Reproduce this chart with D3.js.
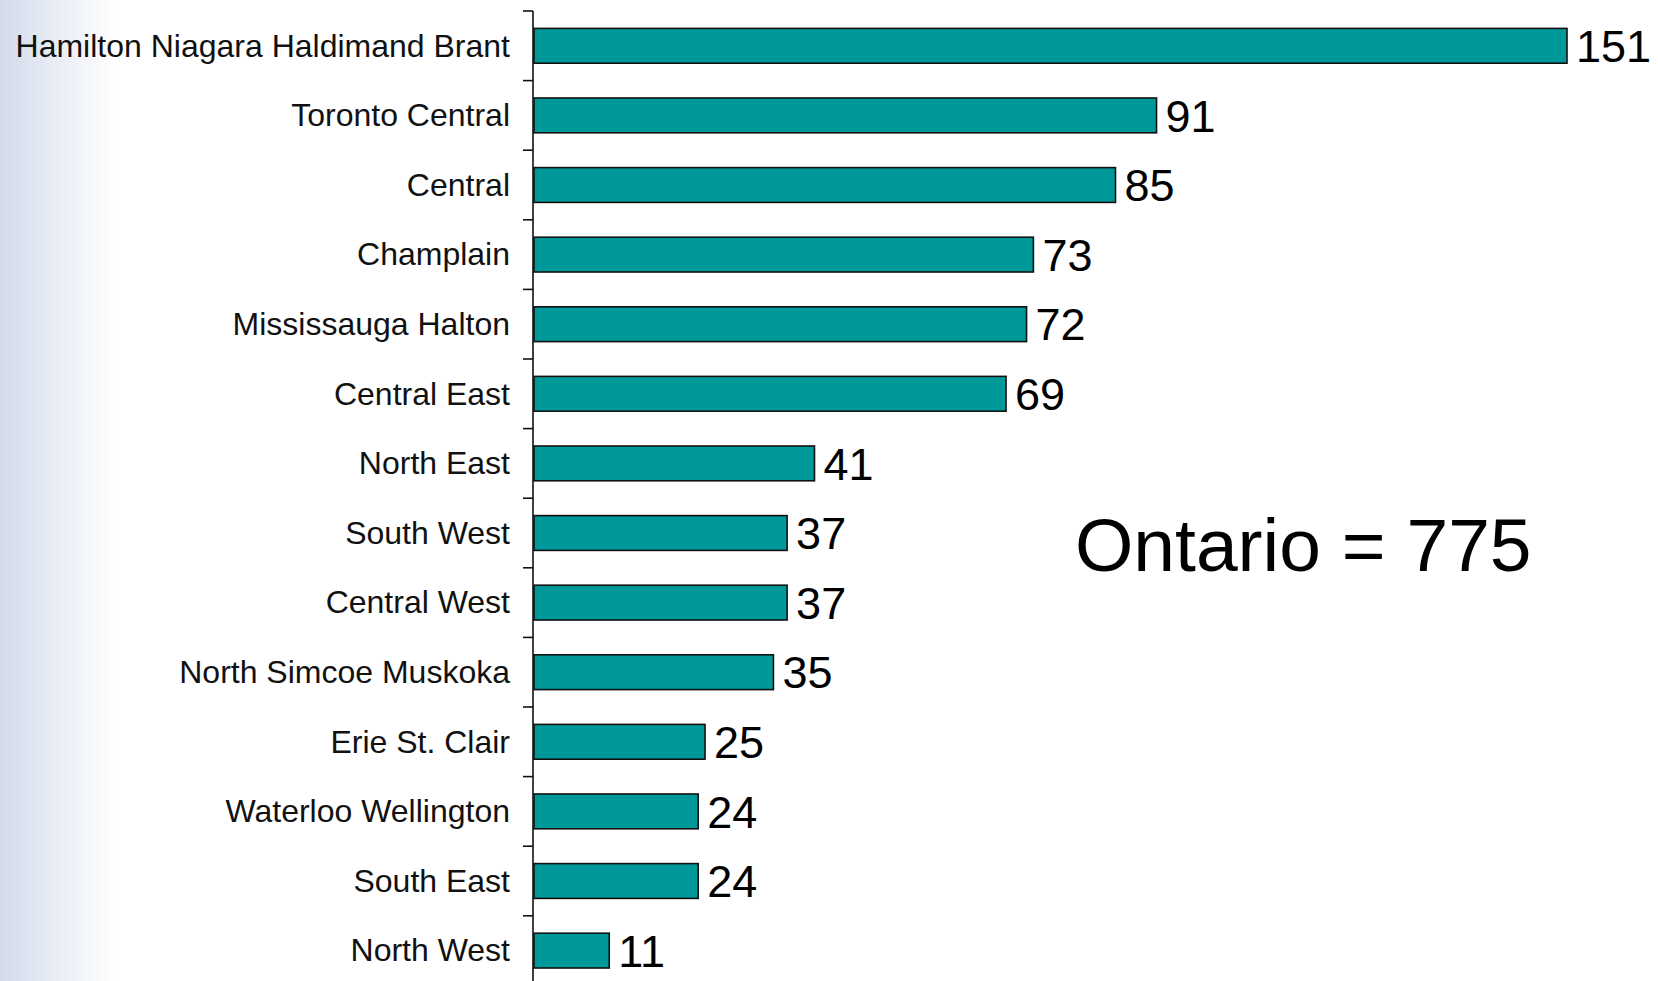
<!DOCTYPE html>
<html lang="en">
<head>
    <meta charset="UTF-8">
    <title>LHIN counts</title>
    <script src="https://d3js.org/d3.v7.min.js"></script>
    <style>
        body { margin: 0; background: #fff; }
        svg { display: block; font-family: "Liberation Sans", Arial, sans-serif; }
    </style>
</head>
<body>
    <svg id="chart" width="1658" height="981"></svg>
    <script>
        // data
        const regions = [
            "Hamilton Niagara Haldimand Brant", "Toronto Central", "Central", "Champlain",
            "Mississauga Halton", "Central East", "North East", "South West", "Central West",
            "North Simcoe Muskoka", "Erie St. Clair", "Waterloo Wellington", "South East", "North West"
        ];
        const counts = [151, 91, 85, 73, 72, 69, 41, 37, 37, 35, 25, 24, 24, 11];
        const totalLabel = "Ontario = 775";

        const svg = d3.select("#chart");
        const W = 1658, H = 981;

        // faint blue strip down the left edge
        const defs = svg.append("defs");
        const grad = defs.append("linearGradient").attr("id", "edge").attr("x1", 0).attr("x2", 1).attr("y1", 0).attr("y2", 0);
        grad.append("stop").attr("offset", "0%").attr("stop-color", "#d3dbeb");
        grad.append("stop").attr("offset", "100%").attr("stop-color", "#ffffff");
        svg.append("rect").attr("x", 0).attr("y", 0).attr("width", 115).attr("height", H).attr("fill", "url(#edge)");

        const axisX = 533;
        const y = d3.scaleBand().domain(regions).range([11, 985.4]).paddingInner(0.5).paddingOuter(0.25);
        const x = d3.scaleLinear().domain([0, d3.max(counts)]).range([axisX + 1, 1567]);
        const data = regions.map((r, i) => ({region: r, value: counts[i]}));

        // bars
        svg.append("g").selectAll("rect").data(data).enter().append("rect")
            .attr("x", x(0))
            .attr("y", d => y(d.region))
            .attr("width", d => x(d.value) - x(0))
            .attr("height", y.bandwidth())
            .attr("fill", "#009999")
            .attr("stroke", "#111")
            .attr("stroke-width", 1.6);

        // axis line + ticks between the bands
        const g = svg.append("g");
        g.append("line").attr("x1", axisX).attr("x2", axisX).attr("y1", y.range()[0]).attr("y2", H)
            .attr("stroke", "#111").attr("stroke-width", 1.6);
        g.selectAll(".tick").data(regions).enter().append("line")
            .attr("x1", axisX - 10).attr("x2", axisX)
            .attr("y1", d => y(d) - y.step() * 0.25).attr("y2", d => y(d) - y.step() * 0.25)
            .attr("stroke", "#111").attr("stroke-width", 1.6);

        // category labels
        svg.append("g").selectAll("text").data(data).enter().append("text")
            .attr("x", 510)
            .attr("y", d => y(d.region) + y.bandwidth() / 2)
            .attr("dy", "0.34em")
            .attr("text-anchor", "end")
            .attr("font-size", 32)
            .attr("fill", "#111")
            .text(d => d.region);

        // value labels
        svg.append("g").selectAll("text").data(data).enter().append("text")
            .attr("x", d => x(d.value) + 9)
            .attr("y", d => y(d.region) + y.bandwidth() / 2)
            .attr("dy", "0.36em")
            .attr("font-size", 45)
            .attr("fill", "#000")
            .text(d => d.value);

        svg.append("text")
            .attr("x", 1075).attr("y", 571)
            .attr("font-size", 75)
            .attr("fill", "#000")
            .text(totalLabel);
    </script>
</body>
</html>
